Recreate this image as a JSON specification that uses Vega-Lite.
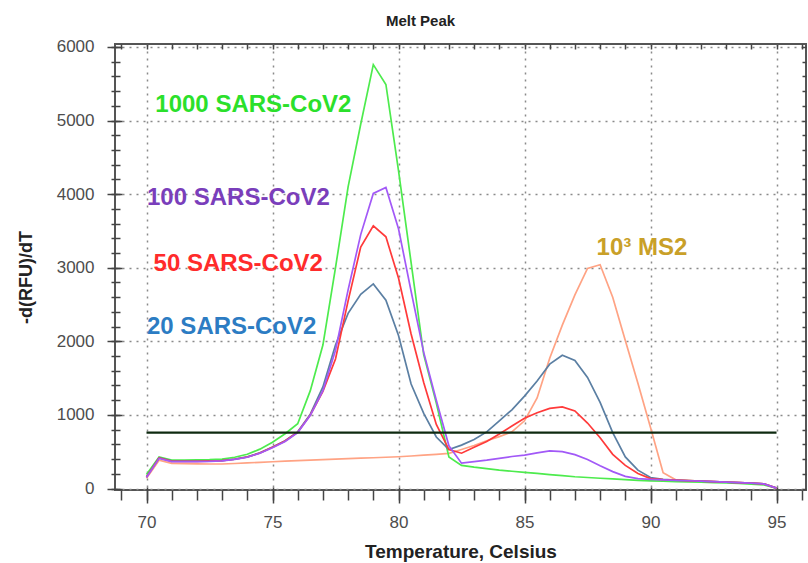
{
  "$schema": "https://vega.github.io/schema/vega-lite/v6.json",
  "width": 691,
  "height": 446,
  "autosize": {"type": "none"},
  "padding": {"left": 115, "top": 44, "right": 2, "bottom": 73},
  "background": "white",
  "title": {"text": "Melt Peak", "font": "Liberation Sans", "fontSize": 15, "fontWeight": "bold", "color": "#222222", "anchor": "middle", "dx": -40, "offset": 9},
  "config": {
    "view": {"stroke": "#555555", "strokeWidth": 2},
    "axis": {"labelFont": "Liberation Sans", "titleFont": "Liberation Sans", "tickColor": "#444444", "tickWidth": 1.5, "domain": false, "labelFlush": false}
  },
  "datasets": {
    "curves": [
      {"series":"10³ MS2","temp":70,"val":140},{"series":"10³ MS2","temp":70.5,"val":385},{"series":"10³ MS2","temp":71,"val":342},{"series":"10³ MS2","temp":71.5,"val":338},{"series":"10³ MS2","temp":72,"val":335},{"series":"10³ MS2","temp":72.5,"val":333},{"series":"10³ MS2","temp":73,"val":333},{"series":"10³ MS2","temp":73.5,"val":340},{"series":"10³ MS2","temp":74,"val":348},{"series":"10³ MS2","temp":74.5,"val":356},{"series":"10³ MS2","temp":75,"val":364},{"series":"10³ MS2","temp":75.5,"val":372},{"series":"10³ MS2","temp":76,"val":379},{"series":"10³ MS2","temp":76.5,"val":386},{"series":"10³ MS2","temp":77,"val":393},{"series":"10³ MS2","temp":77.5,"val":400},{"series":"10³ MS2","temp":78,"val":405},{"series":"10³ MS2","temp":78.5,"val":412},{"series":"10³ MS2","temp":79,"val":418},{"series":"10³ MS2","temp":79.5,"val":425},{"series":"10³ MS2","temp":80,"val":432},{"series":"10³ MS2","temp":80.5,"val":442},{"series":"10³ MS2","temp":81,"val":453},{"series":"10³ MS2","temp":81.5,"val":465},{"series":"10³ MS2","temp":82,"val":478},{"series":"10³ MS2","temp":82.5,"val":530},{"series":"10³ MS2","temp":83,"val":585},{"series":"10³ MS2","temp":83.5,"val":650},{"series":"10³ MS2","temp":84,"val":705},{"series":"10³ MS2","temp":84.5,"val":770},{"series":"10³ MS2","temp":85,"val":920},{"series":"10³ MS2","temp":85.5,"val":1230},{"series":"10³ MS2","temp":86,"val":1770},{"series":"10³ MS2","temp":86.5,"val":2220},{"series":"10³ MS2","temp":87,"val":2630},{"series":"10³ MS2","temp":87.5,"val":2990},{"series":"10³ MS2","temp":88,"val":3040},{"series":"10³ MS2","temp":88.5,"val":2600},{"series":"10³ MS2","temp":89,"val":2010},{"series":"10³ MS2","temp":89.5,"val":1430},{"series":"10³ MS2","temp":90,"val":830},{"series":"10³ MS2","temp":90.5,"val":215},{"series":"10³ MS2","temp":91,"val":118},{"series":"10³ MS2","temp":91.5,"val":108},{"series":"10³ MS2","temp":92,"val":100},{"series":"10³ MS2","temp":92.5,"val":93},{"series":"10³ MS2","temp":93,"val":87},{"series":"10³ MS2","temp":93.5,"val":80},{"series":"10³ MS2","temp":94,"val":73},{"series":"10³ MS2","temp":94.5,"val":63},{"series":"10³ MS2","temp":95,"val":5},

      {"series":"1000 SARS-CoV2","temp":70,"val":190},{"series":"1000 SARS-CoV2","temp":70.5,"val":430},{"series":"1000 SARS-CoV2","temp":71,"val":385},{"series":"1000 SARS-CoV2","temp":71.5,"val":385},{"series":"1000 SARS-CoV2","temp":72,"val":388},{"series":"1000 SARS-CoV2","temp":72.5,"val":392},{"series":"1000 SARS-CoV2","temp":73,"val":400},{"series":"1000 SARS-CoV2","temp":73.5,"val":425},{"series":"1000 SARS-CoV2","temp":74,"val":465},{"series":"1000 SARS-CoV2","temp":74.5,"val":535},{"series":"1000 SARS-CoV2","temp":75,"val":630},{"series":"1000 SARS-CoV2","temp":75.5,"val":745},{"series":"1000 SARS-CoV2","temp":76,"val":880},{"series":"1000 SARS-CoV2","temp":76.5,"val":1330},{"series":"1000 SARS-CoV2","temp":77,"val":1950},{"series":"1000 SARS-CoV2","temp":77.5,"val":3000},{"series":"1000 SARS-CoV2","temp":78,"val":4100},{"series":"1000 SARS-CoV2","temp":78.5,"val":4950},{"series":"1000 SARS-CoV2","temp":79,"val":5760},{"series":"1000 SARS-CoV2","temp":79.5,"val":5490},{"series":"1000 SARS-CoV2","temp":80,"val":4320},{"series":"1000 SARS-CoV2","temp":80.5,"val":3070},{"series":"1000 SARS-CoV2","temp":81,"val":1820},{"series":"1000 SARS-CoV2","temp":81.5,"val":1160},{"series":"1000 SARS-CoV2","temp":82,"val":430},{"series":"1000 SARS-CoV2","temp":82.5,"val":315},{"series":"1000 SARS-CoV2","temp":83,"val":290},{"series":"1000 SARS-CoV2","temp":83.5,"val":270},{"series":"1000 SARS-CoV2","temp":84,"val":250},{"series":"1000 SARS-CoV2","temp":84.5,"val":235},{"series":"1000 SARS-CoV2","temp":85,"val":220},{"series":"1000 SARS-CoV2","temp":85.5,"val":205},{"series":"1000 SARS-CoV2","temp":86,"val":190},{"series":"1000 SARS-CoV2","temp":86.5,"val":175},{"series":"1000 SARS-CoV2","temp":87,"val":160},{"series":"1000 SARS-CoV2","temp":87.5,"val":150},{"series":"1000 SARS-CoV2","temp":88,"val":140},{"series":"1000 SARS-CoV2","temp":88.5,"val":130},{"series":"1000 SARS-CoV2","temp":89,"val":120},{"series":"1000 SARS-CoV2","temp":89.5,"val":112},{"series":"1000 SARS-CoV2","temp":90,"val":105},{"series":"1000 SARS-CoV2","temp":90.5,"val":100},{"series":"1000 SARS-CoV2","temp":91,"val":95},{"series":"1000 SARS-CoV2","temp":91.5,"val":90},{"series":"1000 SARS-CoV2","temp":92,"val":85},{"series":"1000 SARS-CoV2","temp":92.5,"val":80},{"series":"1000 SARS-CoV2","temp":93,"val":75},{"series":"1000 SARS-CoV2","temp":93.5,"val":68},{"series":"1000 SARS-CoV2","temp":94,"val":60},{"series":"1000 SARS-CoV2","temp":94.5,"val":50},{"series":"1000 SARS-CoV2","temp":95,"val":5},

      {"series":"20 SARS-CoV2","temp":70,"val":160},{"series":"20 SARS-CoV2","temp":70.5,"val":420},{"series":"20 SARS-CoV2","temp":71,"val":375},{"series":"20 SARS-CoV2","temp":71.5,"val":372},{"series":"20 SARS-CoV2","temp":72,"val":372},{"series":"20 SARS-CoV2","temp":72.5,"val":375},{"series":"20 SARS-CoV2","temp":73,"val":380},{"series":"20 SARS-CoV2","temp":73.5,"val":400},{"series":"20 SARS-CoV2","temp":74,"val":430},{"series":"20 SARS-CoV2","temp":74.5,"val":485},{"series":"20 SARS-CoV2","temp":75,"val":565},{"series":"20 SARS-CoV2","temp":75.5,"val":650},{"series":"20 SARS-CoV2","temp":76,"val":770},{"series":"20 SARS-CoV2","temp":76.5,"val":1010},{"series":"20 SARS-CoV2","temp":77,"val":1380},{"series":"20 SARS-CoV2","temp":77.5,"val":1950},{"series":"20 SARS-CoV2","temp":78,"val":2380},{"series":"20 SARS-CoV2","temp":78.5,"val":2640},{"series":"20 SARS-CoV2","temp":79,"val":2780},{"series":"20 SARS-CoV2","temp":79.5,"val":2560},{"series":"20 SARS-CoV2","temp":80,"val":2080},{"series":"20 SARS-CoV2","temp":80.5,"val":1420},{"series":"20 SARS-CoV2","temp":81,"val":1020},{"series":"20 SARS-CoV2","temp":81.5,"val":700},{"series":"20 SARS-CoV2","temp":82,"val":530},{"series":"20 SARS-CoV2","temp":82.5,"val":590},{"series":"20 SARS-CoV2","temp":83,"val":665},{"series":"20 SARS-CoV2","temp":83.5,"val":770},{"series":"20 SARS-CoV2","temp":84,"val":920},{"series":"20 SARS-CoV2","temp":84.5,"val":1070},{"series":"20 SARS-CoV2","temp":85,"val":1255},{"series":"20 SARS-CoV2","temp":85.5,"val":1460},{"series":"20 SARS-CoV2","temp":86,"val":1690},{"series":"20 SARS-CoV2","temp":86.5,"val":1810},{"series":"20 SARS-CoV2","temp":87,"val":1740},{"series":"20 SARS-CoV2","temp":87.5,"val":1510},{"series":"20 SARS-CoV2","temp":88,"val":1170},{"series":"20 SARS-CoV2","temp":88.5,"val":760},{"series":"20 SARS-CoV2","temp":89,"val":430},{"series":"20 SARS-CoV2","temp":89.5,"val":250},{"series":"20 SARS-CoV2","temp":90,"val":150},{"series":"20 SARS-CoV2","temp":90.5,"val":125},{"series":"20 SARS-CoV2","temp":91,"val":115},{"series":"20 SARS-CoV2","temp":91.5,"val":108},{"series":"20 SARS-CoV2","temp":92,"val":100},{"series":"20 SARS-CoV2","temp":92.5,"val":93},{"series":"20 SARS-CoV2","temp":93,"val":87},{"series":"20 SARS-CoV2","temp":93.5,"val":80},{"series":"20 SARS-CoV2","temp":94,"val":73},{"series":"20 SARS-CoV2","temp":94.5,"val":63},{"series":"20 SARS-CoV2","temp":95,"val":5},

      {"series":"50 SARS-CoV2","temp":70,"val":155},{"series":"50 SARS-CoV2","temp":70.5,"val":415},{"series":"50 SARS-CoV2","temp":71,"val":370},{"series":"50 SARS-CoV2","temp":71.5,"val":368},{"series":"50 SARS-CoV2","temp":72,"val":368},{"series":"50 SARS-CoV2","temp":72.5,"val":372},{"series":"50 SARS-CoV2","temp":73,"val":378},{"series":"50 SARS-CoV2","temp":73.5,"val":398},{"series":"50 SARS-CoV2","temp":74,"val":428},{"series":"50 SARS-CoV2","temp":74.5,"val":482},{"series":"50 SARS-CoV2","temp":75,"val":560},{"series":"50 SARS-CoV2","temp":75.5,"val":645},{"series":"50 SARS-CoV2","temp":76,"val":765},{"series":"50 SARS-CoV2","temp":76.5,"val":1000},{"series":"50 SARS-CoV2","temp":77,"val":1320},{"series":"50 SARS-CoV2","temp":77.5,"val":1760},{"series":"50 SARS-CoV2","temp":78,"val":2550},{"series":"50 SARS-CoV2","temp":78.5,"val":3280},{"series":"50 SARS-CoV2","temp":79,"val":3570},{"series":"50 SARS-CoV2","temp":79.5,"val":3420},{"series":"50 SARS-CoV2","temp":80,"val":2860},{"series":"50 SARS-CoV2","temp":80.5,"val":2100},{"series":"50 SARS-CoV2","temp":81,"val":1440},{"series":"50 SARS-CoV2","temp":81.5,"val":870},{"series":"50 SARS-CoV2","temp":82,"val":530},{"series":"50 SARS-CoV2","temp":82.5,"val":480},{"series":"50 SARS-CoV2","temp":83,"val":560},{"series":"50 SARS-CoV2","temp":83.5,"val":640},{"series":"50 SARS-CoV2","temp":84,"val":740},{"series":"50 SARS-CoV2","temp":84.5,"val":850},{"series":"50 SARS-CoV2","temp":85,"val":955},{"series":"50 SARS-CoV2","temp":85.5,"val":1030},{"series":"50 SARS-CoV2","temp":86,"val":1088},{"series":"50 SARS-CoV2","temp":86.5,"val":1110},{"series":"50 SARS-CoV2","temp":87,"val":1055},{"series":"50 SARS-CoV2","temp":87.5,"val":890},{"series":"50 SARS-CoV2","temp":88,"val":690},{"series":"50 SARS-CoV2","temp":88.5,"val":465},{"series":"50 SARS-CoV2","temp":89,"val":315},{"series":"50 SARS-CoV2","temp":89.5,"val":205},{"series":"50 SARS-CoV2","temp":90,"val":135},{"series":"50 SARS-CoV2","temp":90.5,"val":122},{"series":"50 SARS-CoV2","temp":91,"val":114},{"series":"50 SARS-CoV2","temp":91.5,"val":107},{"series":"50 SARS-CoV2","temp":92,"val":100},{"series":"50 SARS-CoV2","temp":92.5,"val":93},{"series":"50 SARS-CoV2","temp":93,"val":87},{"series":"50 SARS-CoV2","temp":93.5,"val":80},{"series":"50 SARS-CoV2","temp":94,"val":73},{"series":"50 SARS-CoV2","temp":94.5,"val":63},{"series":"50 SARS-CoV2","temp":95,"val":5},

      {"series":"100 SARS-CoV2","temp":70,"val":150},{"series":"100 SARS-CoV2","temp":70.5,"val":410},{"series":"100 SARS-CoV2","temp":71,"val":365},{"series":"100 SARS-CoV2","temp":71.5,"val":365},{"series":"100 SARS-CoV2","temp":72,"val":365},{"series":"100 SARS-CoV2","temp":72.5,"val":368},{"series":"100 SARS-CoV2","temp":73,"val":375},{"series":"100 SARS-CoV2","temp":73.5,"val":395},{"series":"100 SARS-CoV2","temp":74,"val":425},{"series":"100 SARS-CoV2","temp":74.5,"val":480},{"series":"100 SARS-CoV2","temp":75,"val":555},{"series":"100 SARS-CoV2","temp":75.5,"val":640},{"series":"100 SARS-CoV2","temp":76,"val":760},{"series":"100 SARS-CoV2","temp":76.5,"val":995},{"series":"100 SARS-CoV2","temp":77,"val":1330},{"series":"100 SARS-CoV2","temp":77.5,"val":1880},{"series":"100 SARS-CoV2","temp":78,"val":2700},{"series":"100 SARS-CoV2","temp":78.5,"val":3450},{"series":"100 SARS-CoV2","temp":79,"val":4010},{"series":"100 SARS-CoV2","temp":79.5,"val":4090},{"series":"100 SARS-CoV2","temp":80,"val":3530},{"series":"100 SARS-CoV2","temp":80.5,"val":2680},{"series":"100 SARS-CoV2","temp":81,"val":1850},{"series":"100 SARS-CoV2","temp":81.5,"val":1200},{"series":"100 SARS-CoV2","temp":82,"val":580},{"series":"100 SARS-CoV2","temp":82.5,"val":345},{"series":"100 SARS-CoV2","temp":83,"val":365},{"series":"100 SARS-CoV2","temp":83.5,"val":385},{"series":"100 SARS-CoV2","temp":84,"val":410},{"series":"100 SARS-CoV2","temp":84.5,"val":435},{"series":"100 SARS-CoV2","temp":85,"val":455},{"series":"100 SARS-CoV2","temp":85.5,"val":485},{"series":"100 SARS-CoV2","temp":86,"val":512},{"series":"100 SARS-CoV2","temp":86.5,"val":502},{"series":"100 SARS-CoV2","temp":87,"val":460},{"series":"100 SARS-CoV2","temp":87.5,"val":395},{"series":"100 SARS-CoV2","temp":88,"val":310},{"series":"100 SARS-CoV2","temp":88.5,"val":230},{"series":"100 SARS-CoV2","temp":89,"val":165},{"series":"100 SARS-CoV2","temp":89.5,"val":135},{"series":"100 SARS-CoV2","temp":90,"val":125},{"series":"100 SARS-CoV2","temp":90.5,"val":118},{"series":"100 SARS-CoV2","temp":91,"val":112},{"series":"100 SARS-CoV2","temp":91.5,"val":106},{"series":"100 SARS-CoV2","temp":92,"val":100},{"series":"100 SARS-CoV2","temp":92.5,"val":93},{"series":"100 SARS-CoV2","temp":93,"val":87},{"series":"100 SARS-CoV2","temp":93.5,"val":80},{"series":"100 SARS-CoV2","temp":94,"val":73},{"series":"100 SARS-CoV2","temp":94.5,"val":63},{"series":"100 SARS-CoV2","temp":95,"val":5}
    ],
    "threshold": [
      {"temp": 70, "val": 760},
      {"temp": 95, "val": 760}
    ],
    "labels": [
      {"label": "1000 SARS-CoV2", "temp": 70.35, "val": 5211},
      {"label": "100 SARS-CoV2", "temp": 70.02, "val": 3947},
      {"label": "50 SARS-CoV2", "temp": 70.28, "val": 3050},
      {"label": "20 SARS-CoV2", "temp": 70.02, "val": 2195},
      {"label": "10³ MS2", "temp": 87.86, "val": 3264}
    ]
  },
  "layer": [
    {
      "data": {"name": "curves"},
      "mark": {"type": "line", "strokeWidth": 1.7},
      "encoding": {
        "x": {
          "field": "temp", "type": "quantitative",
          "scale": {"domain": [68.75, 96.17], "nice": false, "zero": false},
          "axis": {
            "orient": "bottom", "values": [70, 75, 80, 85, 90, 95], "offset": -3, "tickSize": 16,
            "grid": true, "gridDash": [2, 5], "gridColor": "#8a8a8a", "gridWidth": 1.5,
            "labelFontSize": 17, "labelColor": "#4d4d4d", "labelPadding": 11,
            "title": "Temperature, Celsius", "titleFontSize": 19, "titleFontWeight": "bold", "titleColor": "#222222", "titlePadding": 12
          }
        },
        "y": {
          "field": "val", "type": "quantitative",
          "scale": {"domain": [-20, 6040], "nice": false, "zero": false},
          "axis": {
            "orient": "left", "values": [0, 1000, 2000, 3000, 4000, 5000, 6000], "format": "d", "offset": -7, "tickSize": 15,
            "grid": true, "gridDash": [2, 5], "gridColor": "#8a8a8a", "gridWidth": 1.5,
            "labelFontSize": 17, "labelColor": "#4d4d4d", "labelPadding": 13,
            "title": "-d(RFU)/dT", "titleFontSize": 18, "titleFontWeight": "bold", "titleColor": "#222222", "titlePadding": 21, "titleY": 233
          }
        },
        "color": {
          "field": "series", "type": "nominal",
          "scale": {
            "domain": ["1000 SARS-CoV2", "100 SARS-CoV2", "50 SARS-CoV2", "20 SARS-CoV2", "10³ MS2"],
            "range": ["#4deb4d", "#a259f7", "#ff3a3a", "#5b7fa3", "#ffa384"]
          },
          "legend": null
        }
      }
    },
    {
      "data": {"name": "threshold"},
      "mark": {"type": "line", "strokeWidth": 2.2, "color": "#0e2a10"},
      "encoding": {
        "x": {
          "field": "temp", "type": "quantitative",
          "scale": {"domain": [68.75, 96.17], "nice": false, "zero": false},
          "axis": {
            "orient": "bottom", "values": [69,70,71,72,73,74,75,76,77,78,79,80,81,82,83,84,85,86,87,88,89,90,91,92,93,94,95,96],
            "offset": 0, "tickSize": 10, "labels": false, "grid": false, "title": null
          }
        },
        "y": {
          "field": "val", "type": "quantitative",
          "scale": {"domain": [-20, 6040], "nice": false, "zero": false},
          "axis": {
            "orient": "left", "values": [0,200,400,600,800,1000,1200,1400,1600,1800,2000,2200,2400,2600,2800,3000,3200,3400,3600,3800,4000,4200,4400,4600,4800,5000,5200,5400,5600,5800,6000],
            "offset": -5, "tickSize": 9, "labels": false, "grid": false, "title": null
          }
        }
      }
    },
    {
      "data": {"name": "labels"},
      "mark": {"type": "text", "align": "left", "baseline": "middle", "font": "Liberation Sans", "fontSize": 24, "fontWeight": "bold"},
      "encoding": {
        "x": {
          "field": "temp", "type": "quantitative",
          "scale": {"domain": [68.75, 96.17], "nice": false, "zero": false},
          "axis": {
            "orient": "top", "values": [69,70,71,72,73,74,75,76,77,78,79,80,81,82,83,84,85,86,87,88,89,90,91,92,93,94,95,96],
            "offset": -5, "tickSize": 5, "labels": false, "grid": false, "title": null
          }
        },
        "y": {
          "field": "val", "type": "quantitative",
          "scale": {"domain": [-20, 6040], "nice": false, "zero": false},
          "axis": {
            "orient": "right", "values": [0,200,400,600,800,1000,1200,1400,1600,1800,2000,2200,2400,2600,2800,3000,3200,3400,3600,3800,4000,4200,4400,4600,4800,5000,5200,5400,5600,5800,6000],
            "offset": -4, "tickSize": 4, "labels": false, "grid": false, "title": null
          }
        },
        "text": {"field": "label", "type": "nominal"},
        "color": {
          "field": "label", "type": "nominal",
          "scale": {
            "domain": ["1000 SARS-CoV2", "100 SARS-CoV2", "50 SARS-CoV2", "20 SARS-CoV2", "10³ MS2"],
            "range": ["#2be02b", "#7a3ebb", "#ff2b2b", "#2c7cc3", "#c9a028"]
          },
          "legend": null
        }
      }
    }
  ],
  "resolve": {"axis": {"x": "independent", "y": "independent"}, "scale": {"color": "independent"}}
}
